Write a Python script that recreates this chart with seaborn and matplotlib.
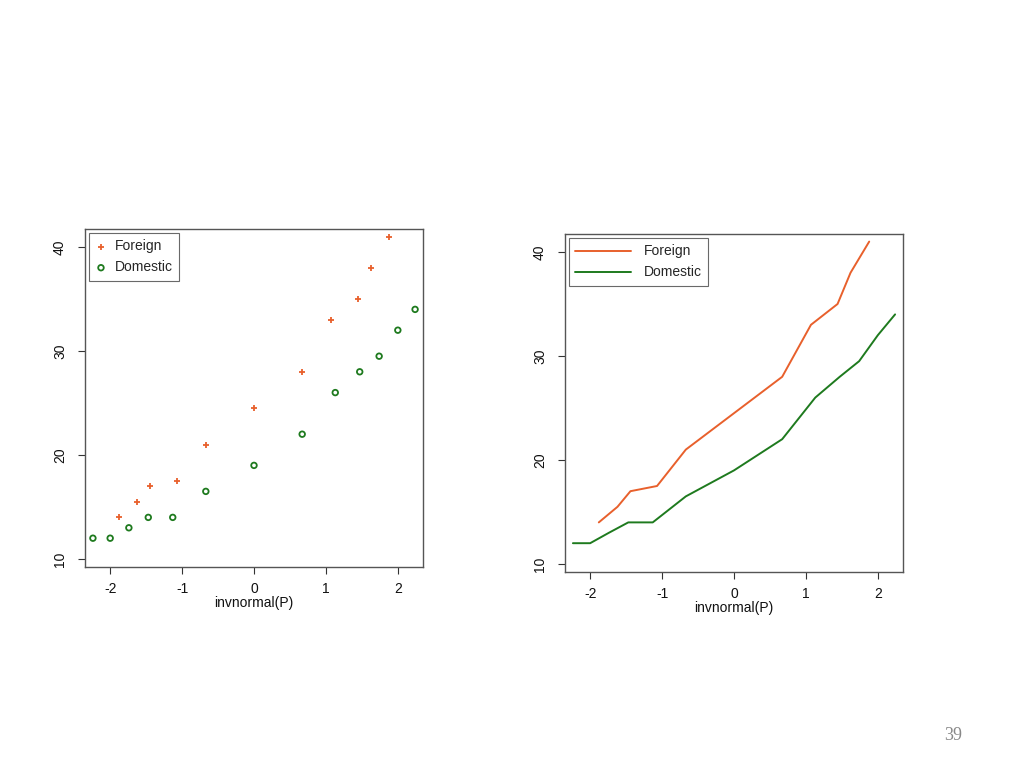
import numpy as np
import pandas as pd
import matplotlib
matplotlib.use("Agg")
import matplotlib.pyplot as plt
import seaborn as sns

# Data
foreign_x = [-1.88, -1.62, -1.44, -1.07, -0.67, 0.0, 0.67, 1.07, 1.44, 1.62, 1.88]
foreign_y = [14, 15.5, 17, 17.5, 21, 24.5, 28, 33, 35, 38, 41]
domestic_x = [-2.24, -2.0, -1.74, -1.47, -1.13, -0.67, 0.0, 0.67, 1.13, 1.47, 1.74, 2.0, 2.24]
domestic_y = [12, 12, 13, 14, 14, 16.5, 19, 22, 26, 28, 29.5, 32, 34]
x_ticks = [-2, -1, 0, 1, 2]
y_ticks = [10, 20, 30, 40]
x_label = "invnormal(P)"
page_number = "39"

sns.set_style("white")
plt.rcParams['font.family'] = ['Liberation Sans', 'DejaVu Sans']

ORANGE = "#E8602C"
GREEN = "#1E7A1E"
FRAME = "#555555"
FS = 10

dfF = pd.DataFrame({"x": foreign_x, "y": foreign_y})
dfD = pd.DataFrame({"x": domestic_x, "y": domestic_y})

fig = plt.figure(figsize=(10.24, 7.68), dpi=100)
ax1 = fig.add_axes([85/1024, 1-567/768, 338/1024, 338/768])
ax2 = fig.add_axes([565/1024, 1-572/768, 338/1024, 338/768])

# Left: scatter
sns.scatterplot(data=dfF, x="x", y="y", ax=ax1, marker="+", color=ORANGE,
                s=18, linewidth=1.3, label="Foreign")
sns.scatterplot(data=dfD, x="x", y="y", ax=ax1, marker="o", facecolor="none",
                edgecolor=GREEN, s=16, linewidth=1.3, label="Domestic")

# Right: lines
sns.lineplot(data=dfF, x="x", y="y", ax=ax2, color=ORANGE, linewidth=1.4,
             label="Foreign", sort=True)
sns.lineplot(data=dfD, x="x", y="y", ax=ax2, color=GREEN, linewidth=1.4,
             label="Domestic", sort=True)

for ax in (ax1, ax2):
    ax.set_xlim(-2.35, 2.35)
    ax.set_ylim(9.23, 41.73)
    ax.set_xticks(x_ticks)
    ax.set_xticklabels([str(t) for t in x_ticks])
    ax.set_yticks(y_ticks)
    ax.set_yticklabels([str(t) for t in y_ticks], rotation=90, va="center")
    ax.tick_params(axis="both", direction="out", length=5, width=0.8,
                   color="#333333", labelsize=FS, labelcolor="#111111")
    ax.tick_params(axis="x", bottom=True, pad=6)
    ax.tick_params(axis="y", left=True, pad=8)
    ax.set_xlabel(x_label, fontsize=FS, labelpad=0, color="#111111")
    ax.set_ylabel("")
    for sp in ax.spines.values():
        sp.set_visible(True)
        sp.set_color(FRAME)
        sp.set_linewidth(1.0)
    leg = ax.legend(loc="upper left", fontsize=FS, frameon=True, fancybox=False,
                    borderaxespad=0.3, handlelength=0.8 if ax is ax1 else 4.0,
                    handletextpad=0.6 if ax is ax1 else 0.9,
                    borderpad=0.45, labelspacing=0.5)
    leg.get_frame().set_edgecolor("#444444")
    leg.get_frame().set_linewidth(0.8)

fig.text(953/1024, 1-736/768, page_number, fontsize=13, color="#888888",
         family="Liberation Serif", ha="center", va="center")

fig.savefig("out.png", dpi=100, facecolor="white")
